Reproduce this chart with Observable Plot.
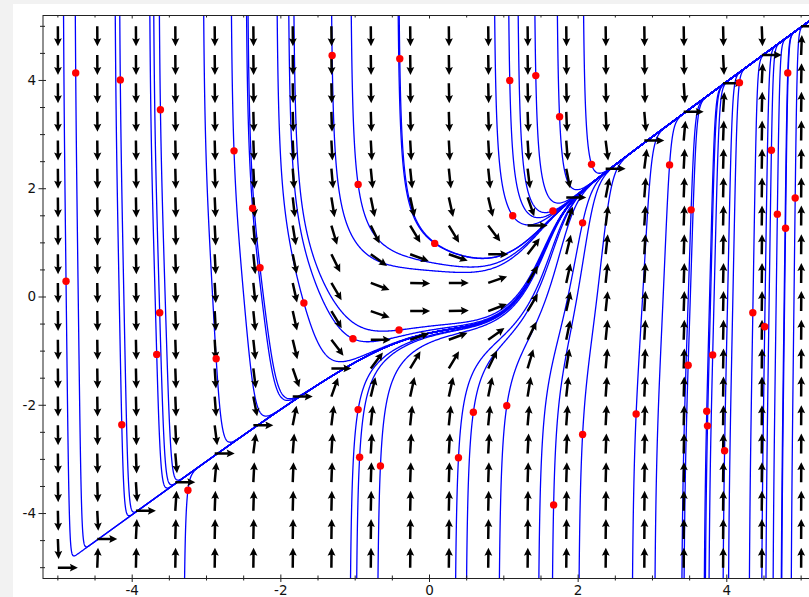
<!DOCTYPE html>
<html>
<head>
<meta charset="utf-8">
<script src="https://cdn.jsdelivr.net/npm/d3@7"></script>
<script src="https://cdn.jsdelivr.net/npm/@observablehq/plot@0.6"></script>
<style>
  html, body { margin: 0; padding: 0; width: 809px; height: 597px; overflow: hidden; background: #f2f2f2; }
  #sheet { position: absolute; left: 13px; top: 4px; width: 796px; height: 593px; background: #fff; overflow: hidden; }
  #sheet svg { max-width: none !important; }
</style>
</head>
<body>
<div id="sheet"></div>
<script>
// Direction field of dy/dx = x^3 - y^3 with solution curves through chosen initial points.
const slope = (x, y) => x ** 3 - y ** 3;

// Initial conditions (red points), one solution curve through each
const startX = [-4.76, -4.16, -3.62, -2.63, -1.31, -0.40, -0.96, 1.08, 1.43, 1.75,
                 2.18, 3.23, 1.12, 1.66, 2.06, 3.52, 0.07, -2.38, -2.28, -4.89,
                -3.63, -1.69, -3.67, -2.87, -1.03, -0.41, -4.14, -3.25, -0.96, -0.94,
                -0.66, 0.39, 0.59, 1.04, 2.06, 1.67, 2.78, 3.73, 3.74, 3.97,
                 4.82, 4.17, 4.60, 4.92, 4.68, 4.79, 4.35, 4.51, 3.81, 3.48];
const startY = [ 4.14, 4.01, 3.46, 2.70, 4.46, 4.40, 2.08, 4.00, 4.09, 3.33,
                 2.45, 2.44, 1.50, 1.59, 1.37, 1.61, 0.99, 1.64, 0.54, 0.29,
                -0.29, -0.11, -1.06, -1.14, -0.77, -0.61, -2.36, -3.57, -2.08, -2.96,
                -3.12, -2.97, -2.13, -2.01, -2.54, -3.84, -2.16, -2.11, -2.38, -2.84,
                 4.14, 3.96, 2.71, 1.83, 1.53, 1.27, -0.29, -0.55, -1.07, -1.26];

// Sample points of the direction field
const gridX = [-5, -4.47, -3.95, -3.42, -2.89, -2.37, -1.84, -1.32, -0.79, -0.26,
               0.26, 0.79, 1.32, 1.84, 2.37, 2.89, 3.42, 3.95, 4.47, 5];
const gridY = gridX.slice();

// Axis ticks
const majorTicks = [-4, -2, 0, 2, 4];
const minorTicks = [-5, -4.5, -3.5, -3, -2.5, -1.5, -1, -0.5, 0.5, 1, 1.5, 2.5, 3, 3.5, 4.5, 5];
const domain = [-5.2, 5.2];

// Layout
const W = 813, H = 604, mL = 29.5, mR = 10.5, mT = 11, mB = 30;
const pw = W - mL - mR, ph = H - mT - mB;
const span = domain[1] - domain[0];
const kx = pw / span, ky = ph / span;   // pixels per unit

// Field arrows: unit direction (1, f) shown in screen space, tail at the sample point
const field = [];
for (const y of gridY) for (const x of gridX) {
  const f = slope(x, y);
  field.push({x, y, angle: Math.atan2(kx, f * ky) * 180 / Math.PI});
}

// Filled quiver-style arrow drawn from the tail (0,0) up to the tip (0,-l)
const quiver = {
  draw(context, l) {
    const w = 1.25, hw = 3.9, hl = 8, ha = 7;
    context.moveTo(-w, 0);
    context.lineTo(-w, -(l - ha));
    context.lineTo(-hw, -(l - hl));
    context.lineTo(0, -l);
    context.lineTo(hw, -(l - hl));
    context.lineTo(w, -(l - ha));
    context.lineTo(w, 0);
    context.closePath();
  }
};

// Integrate solution curves both ways from each initial point (RK4 along arc length)
function direction(x, y) {
  const f = slope(x, y);
  const n = Math.hypot(1, f);
  return [1 / n, f / n];
}
function trace(x0, y0, sign) {
  const h = 0.004 * sign;
  const out = [[x0, y0]];
  let x = x0, y = y0;
  for (let i = 1; i < 20000; i++) {
    const [a1, b1] = direction(x, y);
    const [a2, b2] = direction(x + h * a1 / 2, y + h * b1 / 2);
    const [a3, b3] = direction(x + h * a2 / 2, y + h * b2 / 2);
    const [a4, b4] = direction(x + h * a3, y + h * b3);
    x += h * (a1 + 2 * a2 + 2 * a3 + a4) / 6;
    y += h * (b1 + 2 * b2 + 2 * b3 + b4) / 6;
    const outside = x < -5.25 || x > 5.25 || y < -5.35 || y > 5.35;
    if (i % 3 === 0 || outside) out.push([x, y]);
    if (outside) break;
  }
  return out;
}
const curves = [];
startX.forEach((x0, k) => {
  const back = trace(x0, startY[k], -1).reverse();
  const fwd = trace(x0, startY[k], 1).slice(1);
  for (const [x, y] of back.concat(fwd)) curves.push({x, y, id: k});
});
const starts = startX.map((x, k) => ({x, y: startY[k]}));

const fmt = d => (d < 0 ? "-" + (-d) : String(d));

const chart = Plot.plot({
  width: W,
  height: H,
  marginLeft: mL,
  marginRight: mR,
  marginTop: mT,
  marginBottom: mB,
  style: {fontFamily: "DejaVu Sans, sans-serif", fontSize: "13.5px", color: "#111",
          background: "transparent", maxWidth: "none"},
  x: {domain, ticks: majorTicks, tickSize: 0, tickPadding: 7, tickFormat: fmt, label: null},
  y: {domain, ticks: majorTicks, tickSize: 0, tickPadding: 7, tickFormat: fmt, label: null},
  marks: [
    Plot.line(curves, {x: "x", y: "y", z: "id", stroke: "#0000ff", strokeWidth: 1.3, clip: true}),
    Plot.vector(field, {x: "x", y: "y", rotate: "angle", length: 20, anchor: "start",
                        shape: quiver, fill: "#000", stroke: "none"}),
    Plot.dot(starts, {x: "x", y: "y", r: 3.7, fill: "#ff0000", stroke: "none"}),
    // ticks crossing the bottom and left edges, inner ticks along the top
    Plot.tickX(majorTicks, {x: d => d, insetTop: ph - 3.5, insetBottom: -4, stroke: "#222"}),
    Plot.tickX(minorTicks, {x: d => d, insetTop: ph - 2.5, insetBottom: -2.5, stroke: "#222"}),
    Plot.tickX(majorTicks, {x: d => d, insetBottom: ph - 3.5, stroke: "#222"}),
    Plot.tickX(minorTicks, {x: d => d, insetBottom: ph - 2.5, stroke: "#222"}),
    Plot.tickY(majorTicks, {y: d => d, insetRight: pw - 3.5, insetLeft: -4, stroke: "#222"}),
    Plot.tickY(minorTicks, {y: d => d, insetRight: pw - 2.5, insetLeft: -2.5, stroke: "#222"}),
    Plot.frame({stroke: "#222", strokeWidth: 1})
  ]
});
document.getElementById("sheet").appendChild(chart);
</script>
</body>
</html>
